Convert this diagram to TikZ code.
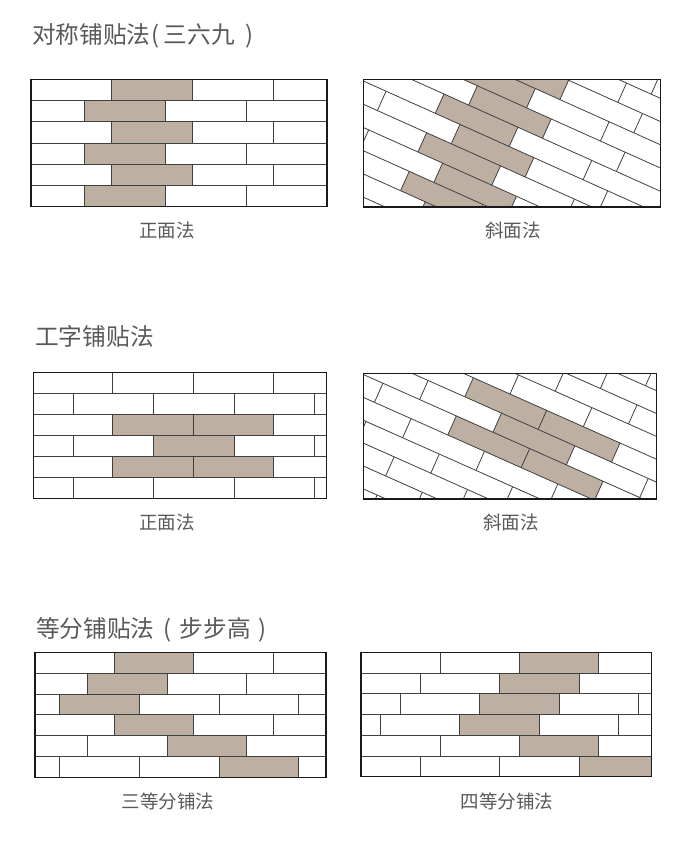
\documentclass[tikz,border=0pt]{standalone}
\usepackage{fontspec}
\usepackage{tikz}
\setmainfont{Noto Sans CJK SC}

\begin{document}
\begin{tikzpicture}[x=1pt, y=-1pt,
    tile/.style={fill=tilecolor, draw=none},
    seam/.style={draw=black!75, line width=0.8pt},
    outline/.style={draw=black!90, line width=1.2pt},
    heading/.style={anchor=west, text=black!65, font=\fontsize{23.7}{26}\selectfont, inner sep=0pt},
    caption/.style={anchor=center, text=black!65, font=\fontsize{18.5}{20}\selectfont, inner sep=0pt}]
    \definecolor{tilecolor}{HTML}{BDB0A3}
    \useasboundingbox (0,0) rectangle (689,847);

    \node[heading] (title1) at (32,35.5) {对称铺贴法\hspace{1pt}(\hspace{4pt}三六九\hspace{11pt})};
    \node[heading] (title2) at (35,336) {工字铺贴法};
    \node[heading] (title3) at (36,629.5) {等分铺贴法\hspace{9pt}(\hspace{8pt}步步高\hspace{8pt})};

    \node[caption] (cap1) at (167,230.5) {正面法};
    \node[caption] (cap2) at (513,230.5) {斜面法};
    \node[caption] (cap3) at (167,522.5) {正面法};
    \node[caption] (cap4) at (511,522.5) {斜面法};
    \node[caption] (cap5) at (168,801) {三等分铺法};
    \node[caption] (cap6) at (507,801) {四等分铺法};

    % front, symmetric
    \begin{scope}[yshift=-79.3pt, y=-21.23pt]
        \foreach \r in {0,2,4} \fill[tile] (111.7,\r) rectangle (192.3,\r+1);
        \foreach \r in {1,3,5} \fill[tile] (84.3,\r) rectangle (165.3,\r+1);
        \foreach \r in {1,...,5} \draw[seam] (31,\r) -- (327,\r);
        \foreach \r in {0,2,4} \foreach \x in {111.7,192.3,273.7} \draw[seam] (\x,\r) -- (\x,\r+1);
        \foreach \r in {1,3,5} \foreach \x in {84.3,165.3,246.7} \draw[seam] (\x,\r) -- (\x,\r+1);
        \draw[outline] (31,0) rectangle (327,6);
    \end{scope}

    % slanted, symmetric
    \begin{scope}
        \clip (363.5,79.3) rectangle (660.5,207);
        \begin{scope}[shift={(444,94)}, rotate=-24.2, y=-21.2pt]
            \foreach \r in {-4,-2,...,6} \fill[tile] (0,\r) rectangle (81,\r+1);
            \foreach \r in {-5,-3,...,5} \fill[tile] (27,\r) rectangle (108,\r+1);
            \foreach \r in {-7,...,8} \draw[seam] (-120,\r) -- (320,\r);
            \foreach \r in {-6,-4,...,6} \foreach \k in {-1,...,3} \draw[seam] (81*\k,\r) -- (81*\k,\r+1);
            \foreach \r in {-7,-5,...,7} \foreach \k in {-2,...,3} \draw[seam] (27+81*\k,\r) -- (27+81*\k,\r+1);
        \end{scope}
    \end{scope}
    \draw[outline] (363.5,79.3) rectangle (660.5,207);

    % front, half bond
    \begin{scope}[yshift=-372.3pt, y=-21pt]
        \foreach \r in {2,4} \fill[tile] (112.7,\r) rectangle (273.3,\r+1);
        \fill[tile] (153.7,3) rectangle (234,4);
        \foreach \r in {1,...,5} \draw[seam] (33.3,\r) -- (326.7,\r);
        \foreach \r in {0,2,4} \foreach \x in {112.7,193.3,273.3} \draw[seam] (\x,\r) -- (\x,\r+1);
        \foreach \r in {1,3,5} \foreach \x in {73.3,153.7,234,314} \draw[seam] (\x,\r) -- (\x,\r+1);
        \draw[outline] (33.3,0) rectangle (326.7,6);
    \end{scope}

    % slanted, half bond
    \begin{scope}
        \clip (363.3,373.3) rectangle (656.7,499);
        \begin{scope}[shift={(473.3,377.7)}, rotate=-24, y=-20.9pt]
            \foreach \r in {0,2} \fill[tile] (0,\r) rectangle (160.6,\r+1);
            \fill[tile] (40.15,1) rectangle (120.45,2);
            \foreach \r in {-7,...,8} \draw[seam] (-160,\r) -- (320,\r);
            \foreach \r in {-6,-4,...,6} \foreach \k in {-2,...,4} \draw[seam] (80.3*\k,\r) -- (80.3*\k,\r+1);
            \foreach \r in {-7,-5,...,7} \foreach \k in {-3,...,3} \draw[seam] (40.15+80.3*\k,\r) -- (40.15+80.3*\k,\r+1);
        \end{scope}
    \end{scope}
    \draw[outline] (363.3,373.3) rectangle (656.7,499);

    % third steps
    \begin{scope}[yshift=-652.3pt, y=-20.83pt]
        \fill[tile] (114,0) rectangle (193.3,1);
        \fill[tile] (87.3,1) rectangle (167.3,2);
        \fill[tile] (59.7,2) rectangle (139.7,3);
        \fill[tile] (114,3) rectangle (193.3,4);
        \fill[tile] (167.3,4) rectangle (246.7,5);
        \fill[tile] (219,5) rectangle (298.7,6);
        \foreach \r in {1,...,5} \draw[seam] (35,\r) -- (326,\r);
        \foreach \r in {0,3} \foreach \x in {114,193.3,273} \draw[seam] (\x,\r) -- (\x,\r+1);
        \foreach \r in {1,4} \foreach \x in {87.3,167.3,246.7} \draw[seam] (\x,\r) -- (\x,\r+1);
        \foreach \r in {2,5} \foreach \x in {59.7,139.7,219,298.7} \draw[seam] (\x,\r) -- (\x,\r+1);
        \draw[outline] (35,0) rectangle (326,6);
    \end{scope}

    % quarter steps
    \begin{scope}[yshift=-652.3pt, y=-20.73pt]
        \fill[tile] (519.3,0) rectangle (598.7,1);
        \fill[tile] (499.7,1) rectangle (579,2);
        \fill[tile] (479.7,2) rectangle (559,3);
        \fill[tile] (459.7,3) rectangle (539.3,4);
        \fill[tile] (519.3,4) rectangle (598.7,5);
        \fill[tile] (579,5) rectangle (651.7,6);
        \foreach \r in {1,...,5} \draw[seam] (361,\r) -- (651.7,\r);
        \foreach \r in {0,4} \foreach \x in {440,519.3,598.7} \draw[seam] (\x,\r) -- (\x,\r+1);
        \foreach \r in {1,5} \foreach \x in {420,499.7,579} \draw[seam] (\x,\r) -- (\x,\r+1);
        \foreach \x in {400,479.7,559,638} \draw[seam] (\x,2) -- (\x,3);
        \foreach \x in {380,459.7,539.3,618.7} \draw[seam] (\x,3) -- (\x,4);
        \draw[outline] (361,0) rectangle (651.7,6);
    \end{scope}
\end{tikzpicture}
\end{document}
